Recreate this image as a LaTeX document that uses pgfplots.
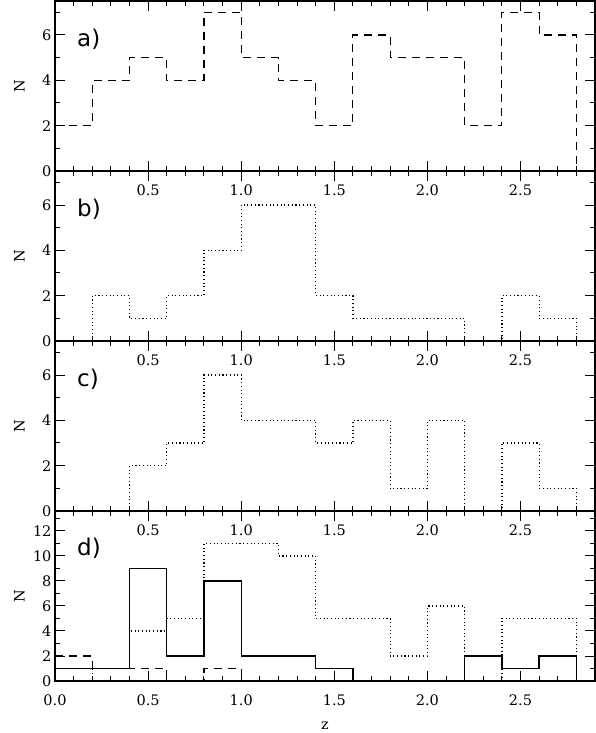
\documentclass[border=0pt]{standalone}
\usepackage{fontspec}
\newfontfamily\tickfont{DejaVu Serif}
\newfontfamily\panelfont{DejaVu Sans}
\usepackage{pgfplots}
\pgfplotsset{compat=1.18}
\begin{document}
\begin{tikzpicture}
\tikzset{pa/.style={font=\panelfont\fontsize{23}{25}\selectfont, anchor=west}}
\pgfplotsset{
  panel/.style={
    scale only axis, width=540pt, height=170pt,
    xmin=0, xmax=2.9, ymin=0,
    xtick={0.5,1.0,1.5,2.0,2.5},
    minor xtick={0.1,0.2,0.3,0.4,0.6,0.7,0.8,0.9,1.1,1.2,1.3,1.4,1.6,1.7,1.8,1.9,2.1,2.2,2.3,2.4,2.6,2.7,2.8},
    /pgf/number format/assume math mode=true,
    xticklabel style={/pgf/number format/fixed, /pgf/number format/fixed zerofill,
      /pgf/number format/precision=1, yshift=-10pt},
    tick label style={font=\tickfont\fontsize{14.5}{17}\selectfont},
    ylabel={N},
    ylabel style={font=\tickfont\fontsize{14.5}{17}\selectfont, at={(axis description cs:-0.066,0.5)}, anchor=center},
    xlabel style={font=\tickfont\fontsize{14.5}{17}\selectfont, at={(axis description cs:0.5,-0.265)}, anchor=center},
    axis line style={line width=1.8pt},
    every tick/.style={black, line width=1pt},
    major tick length=10pt, minor tick length=5pt,
    tick align=inside,
  },
  dashedh/.style={black, line width=1.1pt, dash pattern=on 8pt off 6pt, const plot},
  dottedh/.style={black, line width=1.2pt, dash pattern=on 1.1pt off 2.6pt, const plot},
  solidh/.style={black, line width=1.4pt, const plot},
}
% panel a
\begin{axis}[panel, at={(0,510pt)}, ymax=7.5, ytick={0,2,4,6}, minor ytick={1,3,5,7}]
\addplot[dashedh] coordinates {(0,2) (0.2,4) (0.4,5) (0.6,4) (0.8,7) (1.0,5) (1.2,4)
  (1.4,2) (1.6,6) (1.8,5) (2.0,5) (2.2,2) (2.4,7) (2.6,6) (2.8,0) (2.9,0)};
\node[pa] at (axis cs:0.1,5.8) {a)};
\end{axis}
% panel b
\begin{axis}[panel, at={(0,340pt)}, ymax=7.5, ytick={0,2,4,6}, minor ytick={1,3,5,7}]
\addplot[dottedh] coordinates {(0,0) (0.2,2) (0.4,1) (0.6,2) (0.8,4) (1.0,6) (1.2,6)
  (1.4,2) (1.6,1) (1.8,1) (2.0,1) (2.2,0) (2.4,2) (2.6,1) (2.8,0) (2.9,0)};
\node[pa] at (axis cs:0.1,5.8) {b)};
\end{axis}
% panel c
\begin{axis}[panel, at={(0,170pt)}, ymax=7.5, ytick={0,2,4,6}, minor ytick={1,3,5,7}]
\addplot[dottedh] coordinates {(0,0) (0.2,0) (0.4,2) (0.6,3) (0.8,6) (1.0,4) (1.2,4)
  (1.4,3) (1.6,4) (1.8,1) (2.0,4) (2.2,0) (2.4,3) (2.6,1) (2.8,0) (2.9,0)};
\node[pa] at (axis cs:0.1,5.8) {c)};
\end{axis}
% panel d
\begin{axis}[panel, at={(0,0)}, ymax=13.6, ytick={0,2,4,6,8,10,12},
  minor ytick={1,3,5,7,9,11,13}, xtick={0,0.5,1.0,1.5,2.0,2.5}, xlabel={z}]
\addplot[dottedh] coordinates {(0,0) (0.2,1) (0.4,4) (0.6,5) (0.8,11) (1.0,11) (1.2,10)
  (1.4,5) (1.6,5) (1.8,2) (2.0,6) (2.2,0) (2.4,5) (2.6,5) (2.8,0) (2.9,0)};
\addplot[dashedh] coordinates {(0,2) (0.2,1) (0.4,1) (0.6,0) (0.8,1) (1.0,0) (2.9,0)};
\addplot[solidh] coordinates {(0,1) (0.2,1) (0.4,9) (0.6,2) (0.8,8) (1.0,2) (1.2,2)
  (1.4,1) (1.6,0) (1.8,0) (2.0,0) (2.2,2) (2.4,1) (2.6,2) (2.8,0) (2.9,0)};
\node[pa] at (axis cs:0.1,10.6) {d)};
\end{axis}
\pgfresetboundingbox
\path[use as bounding box] (-55pt,-52pt) rectangle (541pt,681pt);
\end{tikzpicture}
\end{document}
